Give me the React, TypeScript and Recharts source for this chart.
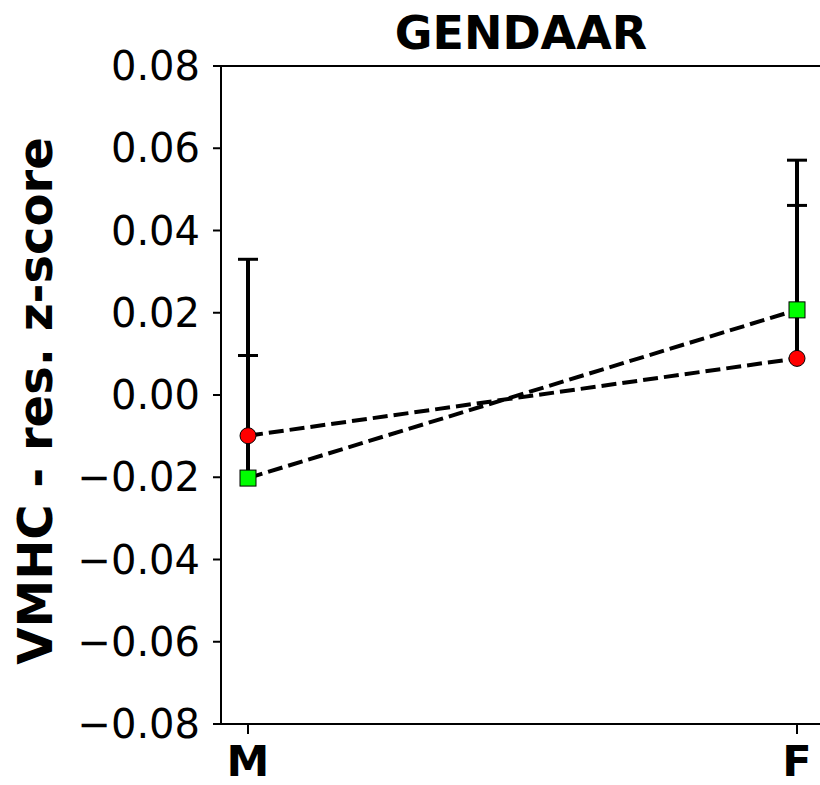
import { ErrorBar, Line, LineChart, ReferenceLine, XAxis, YAxis } from "recharts"

const categories = ["M", "F"]
const redMean = [-0.0099, 0.0089]
const redUpper = [0.0096, 0.0461]
const greenMean = [-0.0202, 0.0207]
const greenUpper = [0.033, 0.0571]
const yTicks = [-0.08, -0.06, -0.04, -0.02, 0, 0.02, 0.04, 0.06, 0.08]

const data = categories.map((cat, i) => ({
  cat,
  red: redMean[i],
  redHi: redUpper[i],
  redErr: [0, redUpper[i] - redMean[i]],
  green: greenMean[i],
  greenHi: greenUpper[i],
  greenErr: [0, greenUpper[i] - greenMean[i]],
}))

const FONT = '"DejaVu Sans", sans-serif'

const fmt = (v: number) => (v < -1e-9 ? "\u2212" : "") + Math.abs(v).toFixed(2)

const CapDot = (props: any) => {
  const { cx, cy } = props
  if (cx == null || cy == null) return <g />
  return <line x1={cx - 10} x2={cx + 10} y1={cy} y2={cy} stroke="#000" strokeWidth={3} />
}

const CircleDot = (props: any) => {
  const { cx, cy } = props
  if (cx == null || cy == null) return <g />
  return <circle cx={cx} cy={cy} r={8} fill="#ff0000" stroke="#000" strokeWidth={1} />
}

const SquareDot = (props: any) => {
  const { cx, cy } = props
  if (cx == null || cy == null) return <g />
  return <rect x={cx - 8} y={cy - 8} width={16} height={16} fill="#00ff00" stroke="#000" strokeWidth={1} />
}

export default function App() {
  return (
    <div style={{ position: "absolute", left: 0, top: 0, width: 820, height: 785, overflow: "hidden", background: "#fff" }}>
      <LineChart width={840} height={785} data={data} margin={{ top: 66, right: 16, bottom: 0, left: 71 }}>
        <XAxis
          dataKey="cat"
          padding={{ left: 27, right: 27 }}
          height={61}
          axisLine={{ stroke: "#000", strokeWidth: 2 }}
          tickLine={{ stroke: "#000", strokeWidth: 2 }}
          tickSize={10}
          tickMargin={11}
          tick={{ fontFamily: FONT, fontSize: 43, fontWeight: "bold", fill: "#000" }}
        />
        <YAxis
          type="number"
          domain={[-0.08, 0.08]}
          ticks={yTicks}
          interval={0}
          width={150}
          tickFormatter={fmt}
          axisLine={{ stroke: "#000", strokeWidth: 2 }}
          tickLine={{ stroke: "#000", strokeWidth: 2 }}
          tickSize={8}
          tickMargin={13}
          tick={{ fontFamily: FONT, fontSize: 40, fill: "#000" }}
        />
        <ReferenceLine y={0.08} stroke="#000" strokeWidth={2} />

        {/* error bars only go up */}
        <Line dataKey="green" stroke="none" dot={false} activeDot={false} isAnimationActive={false}>
          <ErrorBar dataKey="greenErr" width={0} stroke="#000" strokeWidth={4} isAnimationActive={false} />
        </Line>
        <Line dataKey="red" stroke="none" dot={false} activeDot={false} isAnimationActive={false}>
          <ErrorBar dataKey="redErr" width={0} stroke="#000" strokeWidth={4} isAnimationActive={false} />
        </Line>
        <Line dataKey="greenHi" stroke="none" dot={CapDot} activeDot={false} isAnimationActive={false} />
        <Line dataKey="redHi" stroke="none" dot={CapDot} activeDot={false} isAnimationActive={false} />

        <Line
          dataKey="green"
          type="linear"
          stroke="#000"
          strokeWidth={4}
          strokeDasharray="15 6"
          dot={SquareDot}
          activeDot={false}
          isAnimationActive={false}
        />
        <Line
          dataKey="red"
          type="linear"
          stroke="#000"
          strokeWidth={4}
          strokeDasharray="15 6"
          dot={CircleDot}
          activeDot={false}
          isAnimationActive={false}
        />

        <text x={521} y={49} textAnchor="middle" fontFamily={FONT} fontSize={46} fontWeight="bold" fill="#000">
          GENDAAR
        </text>
        <text
          x={52}
          y={401}
          transform="rotate(-90 52 401)"
          textAnchor="middle"
          fontFamily={FONT}
          fontSize={48}
          fontWeight="bold"
          fill="#000"
        >
          VMHC - res. z-score
        </text>
      </LineChart>
    </div>
  )
}
